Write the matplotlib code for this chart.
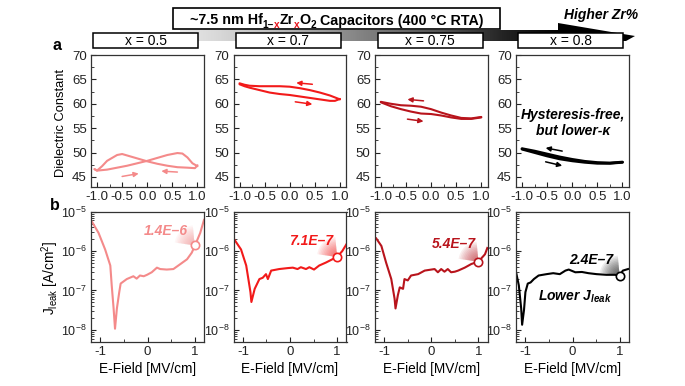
import numpy as np
import matplotlib
matplotlib.use("Agg")
import matplotlib.pyplot as plt
from matplotlib.patches import Rectangle, Polygon, Wedge
from matplotlib.ticker import MultipleLocator, FixedLocator, LogLocator, NullFormatter, FormatStrFormatter
from matplotlib.transforms import IdentityTransform

plt.rcParams['font.family'] = ['Liberation Sans', 'DejaVu Sans']
plt.rcParams['mathtext.fontset'] = 'custom'
plt.rcParams['mathtext.rm'] = 'Liberation Sans'
plt.rcParams['mathtext.it'] = 'Liberation Sans:italic'
plt.rcParams['mathtext.bf'] = 'Liberation Sans:bold'
plt.rcParams['mathtext.bfit'] = 'Liberation Sans:bold:italic'
plt.rcParams['axes.unicode_minus'] = False

# ---------------- data ----------------
compositions = ['x = 0.5', 'x = 0.7', 'x = 0.75', 'x = 0.8']
colors = ['#F48A8A', '#F21A1A', '#B8141C', '#000000']

# (a) dielectric constant vs E-field; forward sweep (-1 -> +1) and reverse sweep (+1 -> -1)
k05_fwd_E = [-1.05, -1.0, -0.8, -0.6, -0.4, -0.2, 0.0, 0.2, 0.4, 0.6, 0.7, 0.8, 0.9, 1.0]
k05_fwd = [46.6, 46.3, 46.5, 46.9, 47.3, 47.8, 48.3, 48.9, 49.5, 49.9, 49.8, 49.0, 47.8, 47.2]
k05_rev_E = [1.0, 0.95, 0.8, 0.6, 0.4, 0.2, 0.0, -0.2, -0.4, -0.5, -0.6, -0.8, -0.9, -1.0, -1.05]
k05_rev = [47.4, 46.8, 46.9, 47.0, 47.3, 47.7, 48.2, 48.8, 49.4, 49.7, 49.5, 48.3, 47.2, 46.3, 46.6]

k07_fwd_E = [-1.0, -0.9, -0.8, -0.6, -0.4, -0.2, 0.0, 0.2, 0.4, 0.6, 0.8, 0.9, 0.95, 1.0]
k07_fwd = [64.0, 63.6, 63.3, 62.8, 62.3, 62.0, 61.8, 61.5, 61.2, 60.9, 60.6, 60.6, 60.8, 61.0]
k07_rev_E = [1.0, 0.9, 0.8, 0.6, 0.4, 0.2, 0.0, -0.2, -0.4, -0.6, -0.8, -0.9, -1.0]
k07_rev = [60.9, 61.3, 61.7, 62.3, 62.8, 63.2, 63.5, 63.6, 63.6, 63.6, 63.7, 63.9, 64.2]

k075_fwd_E = [-1.0, -0.8, -0.6, -0.4, -0.2, 0.0, 0.2, 0.4, 0.6, 0.8, 1.0]
k075_fwd = [60.3, 59.5, 58.9, 58.4, 58.0, 57.9, 57.6, 57.2, 56.9, 56.9, 57.2]
k075_rev_E = [1.0, 0.8, 0.6, 0.4, 0.2, 0.0, -0.2, -0.4, -0.6, -0.8, -1.0]
k075_rev = [57.3, 57.0, 57.1, 57.6, 58.2, 58.9, 59.4, 59.6, 59.7, 60.0, 60.4]

k08_fwd_E = [-1.0, -0.75, -0.5, -0.25, 0.0, 0.25, 0.5, 0.75, 1.0]
k08_fwd = [50.7, 50.0, 49.3, 48.7, 48.3, 48.0, 47.8, 47.8, 48.0]
k08_rev_E = [1.0, 0.75, 0.5, 0.25, 0.0, -0.25, -0.5, -0.75, -1.0]
k08_rev = [48.05, 47.85, 47.95, 48.2, 48.6, 49.1, 49.7, 50.3, 50.8]

# (b) leakage current density vs E-field
j05_E = [-1.18, -1.04, -0.90, -0.79, -0.76, -0.72, -0.69, -0.65, -0.60, -0.57, -0.44, -0.30, -0.23,
         -0.16, -0.08, -0.01, 0.09, 0.20, 0.27, 0.41, 0.55, 0.70, 0.84, 0.94, 1.01, 1.12, 1.20]
j05 = [5.6e-6, 2.9e-6, 1.1e-6, 4.3e-7, 1.35e-7, 3.5e-8, 1.07e-8, 3.5e-8, 9.1e-8, 1.5e-7, 1.95e-7, 2.3e-7, 2.0e-7,
       2.4e-7, 2.3e-7, 2.5e-7, 2.9e-7, 3.8e-7, 3.5e-7, 3.4e-7, 3.5e-7, 4.7e-7, 6.2e-7, 9.1e-7, 1.4e-6, 2.9e-6, 6.2e-6]

j07_E = [-1.18, -1.04, -0.93, -0.84, -0.82, -0.75, -0.65, -0.58, -0.51, -0.47, -0.40, -0.23, -0.05,
         0.06, 0.16, 0.23, 0.34, 0.41, 0.51, 0.62, 0.76, 0.90, 1.00, 1.11, 1.20]
j07 = [1.95e-6, 1.1e-6, 4.3e-7, 9.1e-8, 5.1e-8, 1.1e-7, 1.95e-7, 2.1e-7, 2.6e-7, 1.95e-7, 3.2e-7, 3.5e-7, 3.7e-7,
       3.8e-7, 3.5e-7, 3.9e-7, 3.5e-7, 3.9e-7, 3.4e-7, 4.3e-7, 5.1e-7, 6.2e-7, 7.1e-7, 1.0e-6, 1.5e-6]

j075_E = [-1.17, -1.06, -0.96, -0.85, -0.78, -0.76, -0.71, -0.67, -0.60, -0.57, -0.50, -0.43, -0.28,
          -0.14, 0.07, 0.14, 0.21, 0.28, 0.35, 0.42, 0.50, 0.57, 0.71, 0.85, 1.00, 1.14, 1.19]
j075 = [2.1e-6, 1.35e-6, 5.1e-7, 1.95e-7, 6.2e-8, 3.5e-8, 7.6e-8, 1.2e-7, 1.1e-7, 1.95e-7, 1.8e-7, 2.4e-7, 2.6e-7,
        3.2e-7, 3.5e-7, 2.9e-7, 3.5e-7, 3.0e-7, 3.5e-7, 2.9e-7, 3.0e-7, 3.2e-7, 3.8e-7, 4.7e-7, 5.4e-7, 8.3e-7, 1.2e-6]

j08_E = [-1.19, -1.14, -1.09, -1.07, -1.03, -1.00, -0.95, -0.89, -0.82, -0.72, -0.55, -0.41, -0.27,
         -0.15, -0.08, 0.06, 0.20, 0.34, 0.51, 0.72, 0.90, 1.00, 1.07, 1.18]
j08 = [2.6e-7, 1.35e-7, 3.5e-8, 1.35e-8, 3.2e-8, 9.1e-8, 1.5e-7, 1.6e-7, 1.95e-7, 2.4e-7, 2.6e-7, 2.75e-7, 2.6e-7,
       3.2e-7, 3.4e-7, 2.9e-7, 2.95e-7, 2.75e-7, 2.6e-7, 2.5e-7, 2.5e-7, 2.4e-7, 3.2e-7, 3.5e-7]

j_at_1MV = [1.4e-6, 7.1e-7, 5.4e-7, 2.4e-7]
j_labels = ['1.4E\u20136', '7.1E\u20137', '5.4E\u20137', '2.4E\u20137']

k_fwd = [(k05_fwd_E, k05_fwd), (k07_fwd_E, k07_fwd), (k075_fwd_E, k075_fwd), (k08_fwd_E, k08_fwd)]
k_rev = [(k05_rev_E, k05_rev), (k07_rev_E, k07_rev), (k075_rev_E, k075_rev), (k08_rev_E, k08_rev)]
j_curves = [(j05_E, j05), (j07_E, j07), (j075_E, j075), (j08_E, j08)]

# ---------------- figure ----------------
W, H = 685, 386
fig = plt.figure(figsize=(W / 100, H / 100), dpi=100)
fig.patch.set_facecolor('white')

bg = fig.add_axes([0, 0, 1, 1], zorder=-1)
bg.axis('off')

# gradient arrow ("Higher Zr%")
xs = np.linspace(180, 636, 500)
vals = np.clip((xs - 100) / (560 - 100), 0, 1)
img = bg.imshow(vals[None, :], cmap='Greys', vmin=0, vmax=1, extent=(180, 636, 42, 22),
                aspect='auto', zorder=1, interpolation='bilinear')
arrow_poly = Polygon([(180, 30), (558, 30), (558, 23), (635, 36), (626, 41), (180, 41)],
                     closed=True, facecolor='none', edgecolor='none')
bg.add_patch(arrow_poly)
img.set_clip_path(arrow_poly)
bg.set_xlim(0, W)
bg.set_ylim(H, 0)

bg.text(601, 15.5, 'Higher Zr%', fontsize=10, fontweight='bold', fontstyle='italic',
        ha='center', va='center', zorder=5)

# title box
bg.add_patch(Rectangle((173, 8.3), 327, 21, facecolor='white', edgecolor='black', lw=1.2, zorder=3))
renderer = fig.canvas.get_renderer()
pieces = [('~7.5 nm Hf', 10.3, 'black', 0), ('1\u2013', 7.3, 'black', 3.3), ('x', 7.3, '#E8141C', 3.3),
          ('Zr', 10.3, 'black', 0), ('x', 7.3, '#E8141C', 3.3), ('O', 10.3, 'black', 0), ('2', 7.3, 'black', 3.3),
          (' Capacitors (400 \u00b0C RTA)', 10.3, 'black', 0)]
texts = []
xpos = 0
for s, fs, c, dy in pieces:
    t = bg.text(xpos, 24.5 + dy, s, fontsize=fs, color=c, fontweight='bold', ha='left', va='baseline', zorder=4)
    texts.append(t)
    xpos += t.get_window_extent(renderer).width
acc = 336.5 - xpos / 2
for t in texts:
    w = t.get_window_extent(renderer).width
    t.set_x(acc)
    acc += w

# composition boxes
box_lefts = [93.3, 236, 377.7, 518.3]
for bl, comp in zip(box_lefts, compositions):
    bg.add_patch(Rectangle((bl, 33.3), 105, 15, facecolor='white', edgecolor='black', lw=1.1, zorder=3))
    bg.text(bl + 52.5, 41, comp, fontsize=10, ha='center', va='center', zorder=4)

bg.text(57, 46, 'a', fontsize=11.5, fontweight='bold', ha='center', va='center')
bg.text(55, 205, 'b', fontsize=11.5, fontweight='bold', ha='center', va='center')

panel_lefts = [91, 233.5, 374.8, 516]
pw = 113


def style(ax, ylabelsize=9.5):
    for s in ax.spines.values():
        s.set_color('#333333')
        s.set_linewidth(0.9)
    ax.tick_params(which='both', direction='in', top=False, right=False, labelsize=9.5, colors='#222222')
    ax.tick_params(axis='y', labelsize=ylabelsize)
    ax.tick_params(which='major', length=3.5, width=0.8, pad=3)
    ax.tick_params(which='minor', length=2, width=0.6)


arrow_specs = [
    [((-0.5, 45.1), (-0.17, 45.7)), ((0.6, 46.0), (0.28, 46.2))],
    [((0.45, 64.0), (0.13, 64.3)), ((0.11, 60.4), (0.45, 59.9))],
    [((-0.15, 60.6), (-0.47, 60.9)), ((-0.47, 56.85), (-0.15, 56.4))],
    [((-0.2, 50.3), (-0.53, 50.95)), ((-0.53, 48.1), (-0.2, 47.3))],
]

for i in range(4):
    L = panel_lefts[i]
    c = colors[i]
    # ---- (a) dielectric constant
    ax = fig.add_axes([L / W, 1 - 186.7 / H, pw / W, 131.7 / H])
    style(ax)
    lw = 2.0 if i == 3 else 1.5
    ax.plot(*k_fwd[i], color=c, lw=lw, solid_joinstyle='round', solid_capstyle='round')
    ax.plot(*k_rev[i], color=c, lw=lw, solid_joinstyle='round', solid_capstyle='round')
    for tail, head in arrow_specs[i]:
        ax.annotate('', xy=head, xytext=tail,
                    arrowprops=dict(arrowstyle='-|>', color=c, lw=1.1, mutation_scale=7,
                                    shrinkA=0, shrinkB=0))
    ax.set_xlim(-1.12, 1.13)
    ax.set_ylim(43, 70)
    ax.xaxis.set_major_locator(FixedLocator([-1, -0.5, 0, 0.5, 1]))
    ax.xaxis.set_major_formatter(FormatStrFormatter('%.1f'))
    ax.xaxis.set_minor_locator(MultipleLocator(0.25))
    ax.yaxis.set_major_locator(FixedLocator([45, 50, 55, 60, 65, 70]))
    ax.yaxis.set_minor_locator(MultipleLocator(2.5))
    if i == 0:
        ax.set_ylabel('Dielectric Constant', fontsize=9.3)
        ax.yaxis.set_label_coords(-0.215, 0.48)
    if i == 3:
        ax.text(0.02, 56.1, 'Hysteresis-free,\nbut lower-\u03ba', fontsize=10, fontweight='bold',
                fontstyle='italic', ha='center', va='center', linespacing=1.15)

    # ---- (b) leakage
    bx = fig.add_axes([L / W, 1 - 341.7 / H, pw / W, 130 / H])
    style(bx, ylabelsize=9)
    bx.set_yscale('log')
    bx.plot(*j_curves[i], color=c, lw=1.5, solid_joinstyle='round')
    bx.plot([1.0], [j_at_1MV[i]], marker='o', ms=6, mfc='white', mec=c, mew=1.2, zorder=5)
    bx.set_xlim(-1.2, 1.2)
    bx.set_ylim(10 ** -8.3, 1e-5)
    bx.xaxis.set_major_locator(FixedLocator([-1, 0, 1]))
    bx.xaxis.set_major_formatter(FormatStrFormatter('%d'))
    bx.xaxis.set_minor_locator(FixedLocator([-0.5, 0.5]))
    bx.yaxis.set_major_locator(FixedLocator([1e-8, 1e-7, 1e-6, 1e-5]))
    bx.yaxis.set_minor_locator(LogLocator(base=10, subs=np.arange(2, 10), numticks=20))
    bx.yaxis.set_minor_formatter(NullFormatter())
    bx.set_xlabel('E-Field [MV/cm]', fontsize=9.8)
    bx.xaxis.set_label_coords(0.5, -0.155)
    if i == 0:
        bx.set_ylabel(r'J$_{\mathrm{leak}}$ [A/cm$^{2}$]', fontsize=9.8)
        bx.yaxis.set_label_coords(-0.265, 0.49)
    bx.set_autoscale_on(False)
    # fading highlight from circle toward label
    cx, cy = bx.transData.transform((1.0, j_at_1MV[i]))
    for r in np.linspace(20, 3, 12):
        bx.add_patch(Wedge((cx, cy), r, 95, 172, facecolor=c, edgecolor='none', alpha=0.07,
                           transform=IdentityTransform(), zorder=1))
    label_pos = [(0.39, 10 ** -5.5), (0.44, 10 ** -5.75), (0.47, 10 ** -5.83), (0.39, 10 ** -6.23)][i]
    bx.text(*label_pos, j_labels[i], color=c, fontsize=10, fontweight='bold', fontstyle='italic',
            ha='center', va='center', zorder=6)
    if i == 3:
        bx.text(0.06, 10 ** -7.15, r'$\mathbfit{Lower\ J_{leak}}$', fontsize=10, ha='center', va='center')

fig.savefig('out.png', dpi=100, facecolor='white')
